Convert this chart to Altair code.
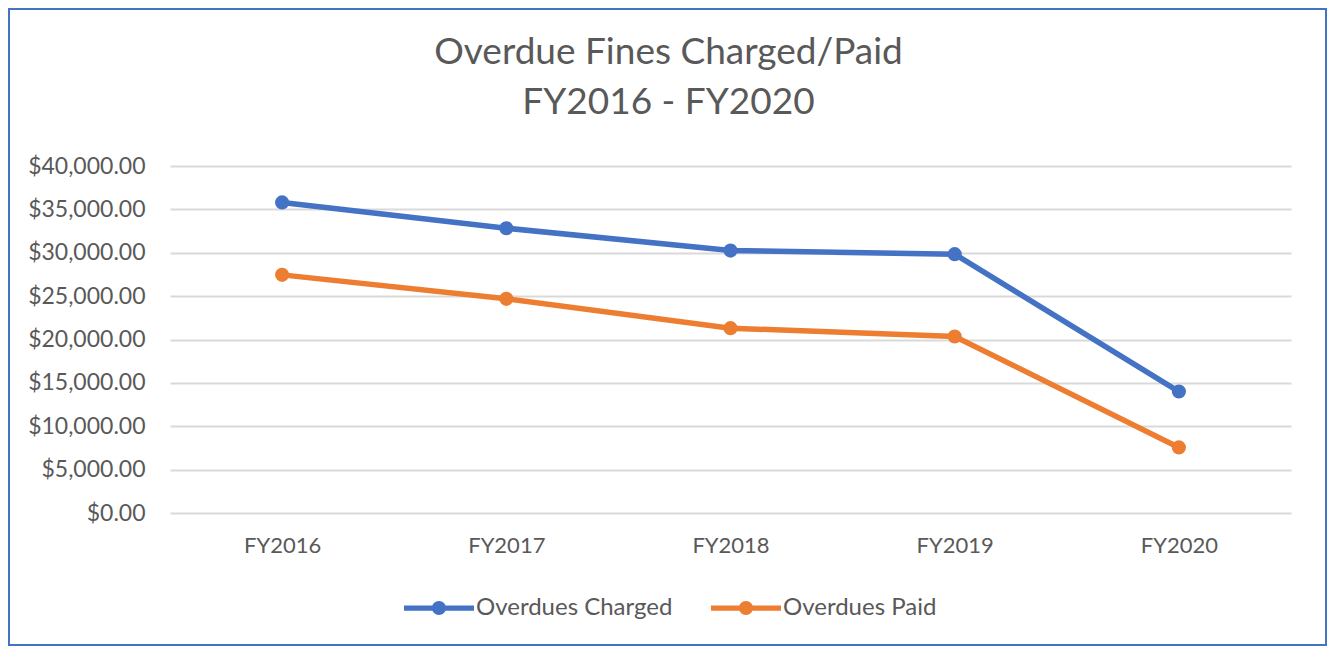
import altair as alt
import pandas as pd

years = ["FY2016", "FY2017", "FY2018", "FY2019", "FY2020"]
charged = [35800, 32830, 30250, 29840, 14000]
paid = [27450, 24690, 21310, 20350, 7560]
series_names = ["Overdues Charged", "Overdues Paid"]
colors = ["#4472C4", "#ED7D31"]
y_ticks = [0, 5000, 10000, 15000, 20000, 25000, 30000, 35000, 40000]

rows = []
for y, c, p in zip(years, charged, paid):
    rows.append({"year": y, "series": series_names[0], "value": c})
    rows.append({"year": y, "series": series_names[1], "value": p})
df = pd.DataFrame(rows)

FONT = "Lato"
GRAY = "#595959"

legend_shape = ("M-1,-0.075 L1,-0.075 L1,0.075 L-1,0.075 Z "
                "M-0.2,0 A0.2,0.2 0 1,1 0.2,0 A0.2,0.2 0 1,1 -0.2,0 Z")

x_enc = alt.X("year:N", sort=years, title=None,
              scale=alt.Scale(type="point", padding=0.5),
              axis=alt.Axis(labelAngle=0, ticks=False, domain=False, grid=False,
                            labelFontSize=22, labelColor=GRAY, labelFont=FONT,
                            labelPadding=22))
y_enc = alt.Y("value:Q", title=None,
              scale=alt.Scale(domain=[0, 40000], nice=False),
              axis=alt.Axis(values=y_ticks, format="$,.2f", ticks=False, domain=False,
                            gridColor="#D9D9D9", gridWidth=2,
                            labelFontSize=23, labelColor=GRAY, labelFont=FONT,
                            labelPadding=25))
color_enc = alt.Color("series:N", sort=series_names,
                      scale=alt.Scale(domain=series_names, range=colors),
                      legend=alt.Legend(title=None, orient="none", direction="horizontal",
                                        legendX=234, legendY=407,
                                        symbolType=legend_shape, symbolSize=4900,
                                        symbolStrokeWidth=0, symbolOpacity=1,
                                        labelFontSize=24, labelColor=GRAY, labelFont=FONT,
                                        labelLimit=0, labelOffset=2, columnPadding=38))

base = alt.Chart(df).encode(x=x_enc, y=y_enc, color=color_enc)
lines = base.mark_line(strokeWidth=5.5)
points = base.mark_point(filled=True, size=200, opacity=1)

border = alt.Chart(pd.DataFrame({"a": [0]})).mark_rect(
    fill=None, stroke="#4472C4", strokeWidth=2
).encode(x=alt.value(-161), x2=alt.value(1156), y=alt.value(-157), y2=alt.value(479))

chart = alt.layer(lines, points, border).properties(
    width=1121, height=347,
    autosize=alt.AutoSizeParams(type="none"),
    padding={"left": 162, "top": 158, "right": 36, "bottom": 133},
    title=alt.TitleParams(text=["Overdue Fines Charged/Paid", "FY2016 - FY2020"],
                          fontSize=37, font=FONT, fontWeight="normal", color=GRAY,
                          anchor="middle", dx=-62, offset=-114, lineHeight=50),
).configure_view(stroke=None)

chart.save("out.html", embed_options={"renderer": "svg", "actions": False})
